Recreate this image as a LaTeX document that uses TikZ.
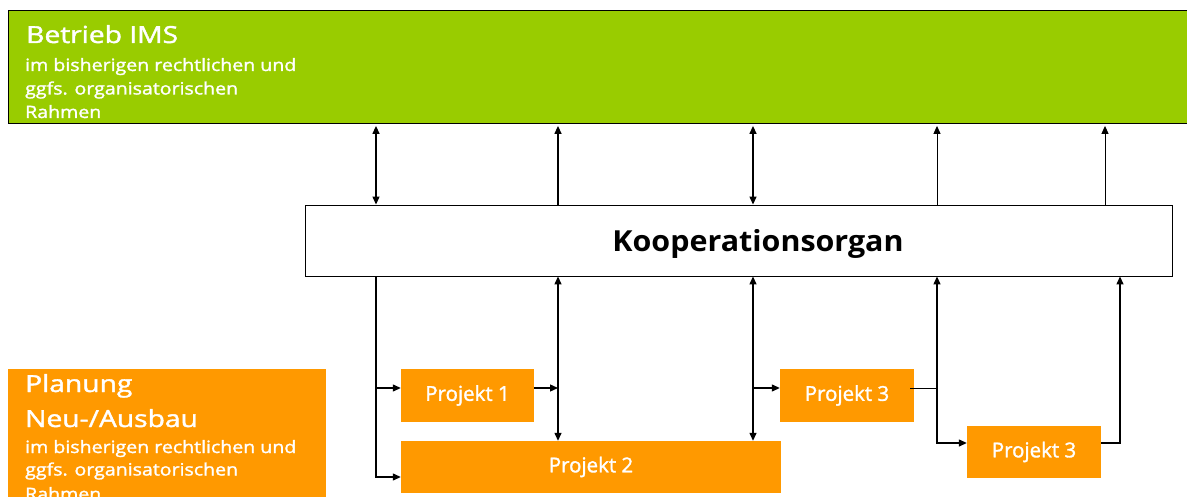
\documentclass[tikz,border=0pt]{standalone}
\usepackage{fontspec}
\usepackage{graphicx}
\setmainfont{Open Sans}
\newfontfamily\medfont{Open Sans}[FakeBold=1.5]
\usetikzlibrary{arrows.meta}
\definecolor{imsgreen}{HTML}{99CC00}
\definecolor{planorange}{HTML}{FF9900}
\newcommand{\widebig}[1]{\scalebox{1.2}[1]{#1}}
\newcommand{\widesmall}[1]{\scalebox{1.15}[1]{#1}}
\begin{document}
\begin{tikzpicture}[x=1pt,y=-1pt,
  conn/.style={draw=black, line width=1.3pt},
  thinconn/.style={draw=black, line width=1pt},
  tipend/.style={-{Triangle[length=8pt,width=7pt]}},
  tipboth/.style={{Triangle[length=8pt,width=7pt]}-{Triangle[length=8pt,width=7pt]}},
  projbox/.style={fill=planorange, draw=none, inner sep=0pt, text=white, font=\medfont\fontsize{20.5}{24}\selectfont},
  whitetext/.style={text=white, inner sep=0pt, anchor=base west},
  bigtext/.style={whitetext, font=\medfont\fontsize{23.5}{28}\selectfont},
  smalltext/.style={whitetext, font=\medfont\fontsize{17}{20}\selectfont}
]
\useasboundingbox (0,0) rectangle (1187,497);
\begin{scope}
\clip (0,0) rectangle (1187,497);
% boxes
\node[fill=imsgreen, draw=black, line width=0.9pt, minimum width=1200pt, minimum height=113pt, anchor=north west, inner sep=0pt] (ims) at (8,10) {};
\node[fill=planorange, draw=none, minimum width=318pt, minimum height=140pt, anchor=north west, inner sep=0pt] (plan) at (8,369) {};
\node[fill=white, draw=black, line width=0.9pt, minimum width=867pt, minimum height=71pt, inner sep=0pt] (koop) at (738.5,240.5) {};
\node[inner sep=0pt, anchor=base, font=\bfseries\fontsize{29}{34}\selectfont] (koopT) at (758,252) {\scalebox{1.05}[1]{Kooperationsorgan}};
\node[projbox, minimum width=133pt, minimum height=53pt] (p1) at (467.5,395.5) {Projekt 1};
\node[projbox, minimum width=380pt, minimum height=52pt] (p2) at (591,467) {Projekt 2};
\node[projbox, minimum width=134pt, minimum height=53pt] (p3a) at (847,395.5) {Projekt 3};
\node[projbox, minimum width=134pt, minimum height=52pt] (p3b) at (1034,452) {Projekt 3};
% texts
\node[bigtext] (imsT) at (26,43) {\widebig{Betrieb IMS}};
\node[smalltext] (imsA) at (25,71) {\widesmall{im bisherigen rechtlichen und}};
\node[smalltext] (imsB) at (25,94.5) {\widesmall{ggfs. organisatorischen}};
\node[smalltext] (imsC) at (25,118) {\widesmall{Rahmen}};
\node[bigtext] (planT) at (25,392) {\widebig{Planung}};
\node[bigtext] (planU) at (25,427) {\widebig{Neu-/Ausbau}};
\node[smalltext] (planA) at (25,453) {\widesmall{im bisherigen rechtlichen und}};
\node[smalltext] (planB) at (25,475.5) {\widesmall{ggfs. organisatorischen}};
\node[smalltext] (planC) at (25,500) {\widesmall{Rahmen}};
% column coordinates
\coordinate (ca) at (376,0);
\coordinate (cb) at (558,0);
\coordinate (cc) at (753,0);
\coordinate (cd) at (937,0);
\coordinate (ce) at (1105,0);
\coordinate (cf) at (1120,0);
\coordinate (rowa) at (0,388);
\coordinate (rowb) at (0,443);
\coordinate (rowc) at (0,477);
% top connectors
\draw[conn, tipboth] ([yshift=-2pt]ims.south -| ca) -- (koop.north -| ca);
\draw[conn, tipend] (koop.north -| cb) -- ([yshift=-2pt]ims.south -| cb);
\draw[conn, tipboth] ([yshift=-2pt]ims.south -| cc) -- (koop.north -| cc);
\draw[thinconn, tipend] (koop.north -| cd) -- ([yshift=-2pt]ims.south -| cd);
\draw[thinconn, tipend] (koop.north -| ce) -- ([yshift=-2pt]ims.south -| ce);
% lower connectors
\coordinate (ja) at (ca |- rowa);
\coordinate (jb) at (cb |- rowa);
\coordinate (jc) at (cc |- rowa);
\coordinate (jd) at (cd |- rowa);
\draw[conn, tipend] (koop.south -| ca) |- (p2.west |- rowc);
\draw[conn, tipend] (ja) -- (p1.west |- rowa);
\draw[conn, tipboth] (koop.south -| cb) -- (p2.north -| cb);
\draw[conn, tipend] (p1.east |- rowa) -- (jb);
\draw[conn, tipboth] (koop.south -| cc) -- (p2.north -| cc);
\draw[conn, tipend] (jc) -- (p3a.west |- rowa);
\draw[thinconn] ([xshift=-4pt]p3a.east |- rowa) -- (jd);
\draw[conn, tipboth] (koop.south -| cd) |- (p3b.west |- rowb);
\draw[conn, tipend] (p3b.east |- rowb) -| (koop.south -| cf);
\end{scope}
\end{tikzpicture}
\end{document}
